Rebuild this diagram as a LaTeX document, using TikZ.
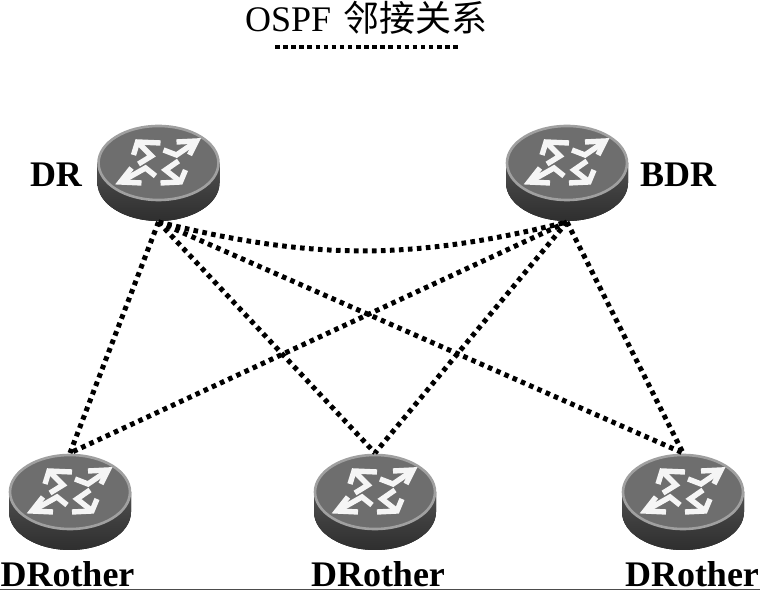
\documentclass[tikz,border=0pt]{standalone}
\usepackage{fontspec}
\setmainfont{Liberation Serif}
\newfontfamily\cjk{Noto Sans CJK SC}
\usetikzlibrary{positioning}
\definecolor{cface}{HTML}{6E6E6E}
\definecolor{crim}{HTML}{A0A0A0}
\definecolor{cside}{HTML}{3E3E3E}
\tikzset{
  every picture/.style={x=1pt, y=1pt},
  label/.style={font=\fontsize{36}{36}\selectfont\bfseries, inner sep=0pt, anchor=base},
  title/.style={font=\fontsize{36}{36}\selectfont, inner sep=0pt, anchor=base west},
  adj/.style={line width=5pt, dash pattern=on 4.6pt off 4.4pt, black},
  glyph/.style={draw=white!96!black, line width=5.4pt, miter limit=3},
  router/.pic={
    \fill[top color=cside!90, bottom color=cside!75!black, middle color=cside]
      (-61,0) -- (-61,-20) arc (180:360:61 and 38) -- (61,0) -- cycle;
    \draw[fill=cface, draw=crim, line width=2.6pt] (0,0) ellipse (60 and 37);
    % the four arrows on the top face
    \draw[glyph] (2,20) -- (-21,21) -- (-25,8);
    \draw[glyph] (-20,20) -- (-7,7) -- (-20,-1);
    \draw[glyph] (18,21) -- (38,22) -- (31,8);
    \draw[glyph] (37,21) -- (18,8) -- (5,13);
    \draw[glyph] (-27,-5) -- (-38,-19) -- (-17,-20);
    \draw[glyph] (-36,-18) -- (-13,-5) -- (-3,-13);
    \draw[glyph] (27,-7) -- (22,-19) -- (2,-20);
    \draw[glyph] (21,-18) -- (7,-7) -- (20,2);
    \coordinate (-top) at (0,39);
    \coordinate (-bot) at (0,-59);
  },
}

\begin{document}
\begin{tikzpicture}
  \useasboundingbox (0,0) rectangle (760,591);
  \node[title] (head) at (245,559) {OSPF\hspace{3pt} {\cjk 邻接关系}};
  \coordinate (ruleL) at (275,544);
  \coordinate (ruleR) at (460,544);
  \draw[line width=4pt, dash pattern=on 4.5pt off 3.6pt] (ruleL) -- (ruleR);

  \pic (dr) at (158.5,428) {router};
  \pic (bdr) at (567,428) {router};
  \pic (oa) at (70,99) {router};
  \pic (ob) at (375,99) {router};
  \pic (oc) at (683,99) {router};

  \node[label] (drname) at (56,404) {DR};
  \node[label] (bdrname) at (678,404) {BDR};
  \node[label] (oaname) at (67.5,4) {DRother};
  \node[label] (obname) at (378,4) {DRother};
  \node[label] (ocname) at (692,4) {DRother};

  \foreach \a in {dr,bdr}
    \foreach \b in {oa,ob,oc}
      \draw[adj] (\a-bot) -- (\b-top);
  \draw[adj] (dr-bot) to[bend right=14] (bdr-bot);

  \coordinate (edgeL) at (0,1);
  \coordinate (edgeR) at (760,1);
  \draw[black!70, line width=1pt] (edgeL) -- (edgeR);
\end{tikzpicture}
\end{document}
